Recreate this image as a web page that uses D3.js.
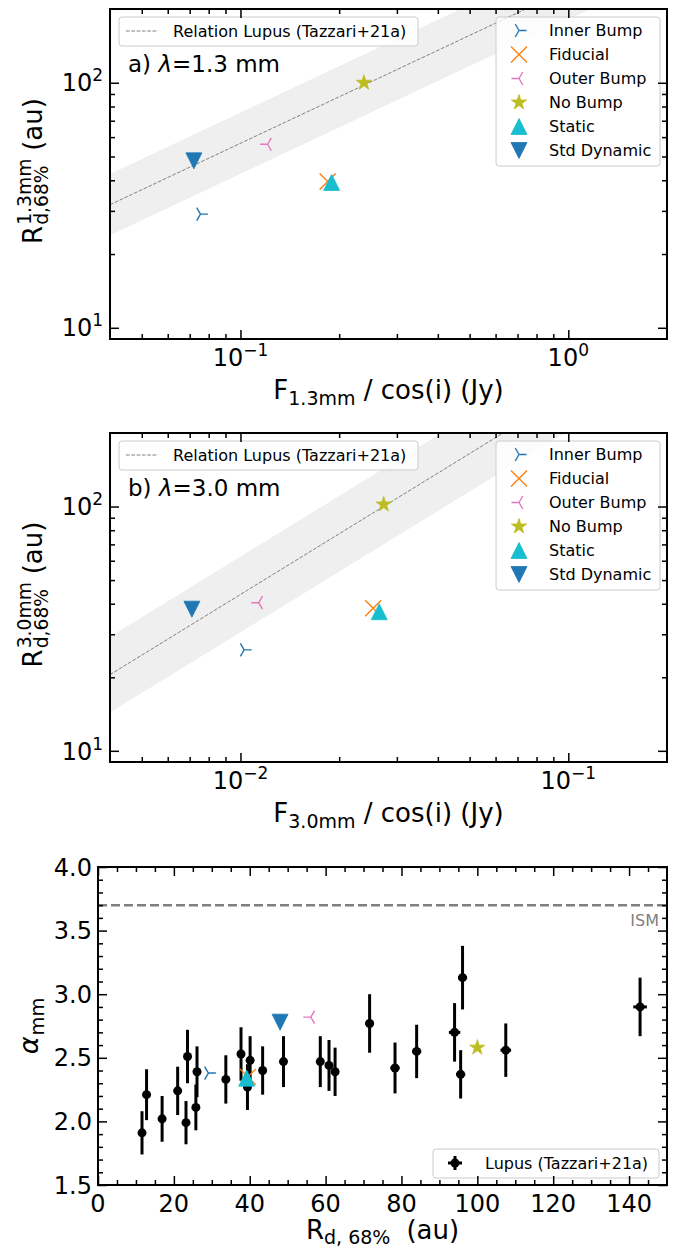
<!DOCTYPE html>
<html>
<head>
<meta charset="utf-8">
<script src="https://cdn.jsdelivr.net/npm/d3@7"></script>
<style>
  body { margin: 0; background: #fff; }
  svg { display: block; font-family: "DejaVu Sans", sans-serif; }
</style>
</head>
<body>
<div id="chart"></div>
<script>
// model runs, in legend order
const modelNames = ["Inner Bump", "Fiducial", "Outer Bump", "No Bump", "Static", "Std Dynamic"];
const flux13 = [0.0755, 0.1845, 0.121, 0.238, 0.1897, 0.0721];
const radius13 = [29.1, 39.5, 56.1, 100, 39.2, 48.0];
const flux30 = [0.01026, 0.0254, 0.01137, 0.02735, 0.0265, 0.00711];
const radius30 = [25.9, 38.3, 40.4, 102, 37.1, 38.0];
const alphaModels = [2.38, 2.35, 2.82, 2.58, 2.34, 2.78];

// Lupus discs (Tazzari+21a)
const lupusR = [11.6, 12.8, 16.9, 21.0, 23.2, 23.6, 25.8, 26.1, 33.7, 37.7, 39.4, 40.1, 43.4,
  48.9, 58.6, 60.9, 62.5, 71.6, 78.3, 84.0, 94.0, 95.6, 96.1, 107.5, 142.9];
const lupusRErr = [0.4, 0.4, 0.4, 0.5, 0.5, 0.5, 0.5, 0.5, 0.6, 0.6, 0.6, 0.6, 0.7,
  0.8, 0.9, 0.9, 1.0, 1.1, 1.2, 1.2, 1.5, 1.2, 1.2, 1.4, 1.8];
const lupusAlpha = [1.91, 2.21, 2.02, 2.24, 1.99, 2.51, 2.11, 2.39, 2.33, 2.53, 2.27, 2.48, 2.40,
  2.47, 2.47, 2.44, 2.39, 2.77, 2.42, 2.55, 2.70, 2.37, 3.13, 2.56, 2.90];
const lupusAlphaErr = [0.17, 0.20, 0.18, 0.19, 0.17, 0.21, 0.18, 0.20, 0.19, 0.21, 0.18, 0.19, 0.19,
  0.20, 0.20, 0.20, 0.19, 0.23, 0.20, 0.21, 0.23, 0.19, 0.25, 0.21, 0.23];

// size-luminosity relation: log R = a + b log F, scatter in dex
const relation13 = [2.383, 0.63, 0.125];
const relation30 = [3.29, 0.825, 0.155];
const alphaISM = 3.7;

// tick values
const xExp13 = [-1, 0];
const xExp30 = [-2, -1];
const yExp = [1, 2];
const radiusTicks = [0, 20, 40, 60, 80, 100, 120, 140];
const alphaTicks = [1.5, 2.0, 2.5, 3.0, 3.5, 4.0];

const modelStyle = {
  "Inner Bump": { shape: "tri_right", color: "#1f77b4" },
  "Fiducial": { shape: "x", color: "#ff7f0e" },
  "Outer Bump": { shape: "tri_left", color: "#e377c2" },
  "No Bump": { shape: "star", color: "#bcbd22" },
  "Static": { shape: "tri_up", color: "#17becf" },
  "Std Dynamic": { shape: "tri_down", color: "#1f77b4" },
};

const width = 686, height = 1251;
const tickFont = 24, labelFont = 26, subFont = 19, legendFont = 16;

const svg = d3.select("#chart").append("svg")
  .attr("width", width)
  .attr("height", height);

function markerPath(shape, ms) {
  const r = ms / 2, s = 0.866 * r;
  if (shape === "tri_right") return `M0,0L${r},0M0,0L${-r / 2},${-s}M0,0L${-r / 2},${s}`;
  if (shape === "tri_left") return `M0,0L${-r},0M0,0L${r / 2},${-s}M0,0L${r / 2},${s}`;
  if (shape === "x") return `M${-r},${-r}L${r},${r}M${-r},${r}L${r},${-r}`;
  if (shape === "tri_up") return `M0,${-r}L${r},${r}L${-r},${r}Z`;
  if (shape === "tri_down") return `M0,${r}L${r},${-r}L${-r},${-r}Z`;
  // star
  const pts = [];
  for (let i = 0; i < 10; i++) {
    const rad = i % 2 === 0 ? r : r * 0.381966;
    const a = -Math.PI / 2 + i * Math.PI / 5;
    pts.push([rad * Math.cos(a), rad * Math.sin(a)]);
  }
  return "M" + pts.map(p => p.join(",")).join("L") + "Z";
}

function drawMarker(g, name, cx, cy) {
  const st = modelStyle[name];
  const open = st.shape === "tri_right" || st.shape === "tri_left" || st.shape === "x";
  g.append("path")
    .attr("d", markerPath(st.shape, open ? (st.shape === "x" ? 16 : 15) : 16))
    .attr("transform", `translate(${cx},${cy})`)
    .attr("fill", open ? "none" : st.color)
    .attr("stroke", st.color)
    .attr("stroke-width", open ? 1.4 : 0.8);
}

// ticks pointing inward on the four sides
function drawTicks(g, x, y, box, xMajor, xMinor, yMajor, yMinor) {
  const sets = [
    [d3.axisBottom, x, `translate(0,${box.bottom})`, xMajor, xMinor],
    [d3.axisTop, x, `translate(0,${box.top})`, xMajor, xMinor],
    [d3.axisLeft, y, `translate(${box.left},0)`, yMajor, yMinor],
    [d3.axisRight, y, `translate(${box.right},0)`, yMajor, yMinor],
  ];
  sets.forEach(([axisFn, scale, tr, major, minor]) => {
    [[major, 9], [minor, 5]].forEach(([vals, len]) => {
      const a = g.append("g").attr("transform", tr)
        .call(axisFn(scale).tickValues(vals).tickSize(-len).tickSizeOuter(0).tickFormat(""));
      a.select(".domain").remove();
      a.selectAll("line").attr("stroke", "#000").attr("stroke-width", 1.5);
    });
  });
}

// label with stacked super/subscript, e.g. R^{1.3mm}_{d,68%} (au)
function stackedLabel(g, cx, cy, rotate, base, sup, sub, tail, size, italic) {
  const outer = g.append("g").attr("transform", `translate(${cx},${cy}) rotate(${rotate})`);
  const inner = outer.append("g");
  const b = inner.append("text").attr("font-size", size).text(base);
  if (italic) b.attr("font-style", "italic");
  const w0 = b.node().getComputedTextLength();
  let w1 = 0;
  if (sup) {
    const t = inner.append("text").attr("x", w0 + 1).attr("y", -0.42 * size)
      .attr("font-size", 0.72 * size).text(sup);
    w1 = Math.max(w1, t.node().getComputedTextLength());
  }
  if (sub) {
    const t = inner.append("text").attr("x", w0 + 1).attr("y", 0.24 * size)
      .attr("font-size", 0.72 * size).text(sub);
    w1 = Math.max(w1, t.node().getComputedTextLength());
  }
  let total = w0 + 1 + w1;
  if (tail) {
    const t = inner.append("text").attr("x", total + 0.3 * size).attr("font-size", size).text(tail);
    total += 0.3 * size + t.node().getComputedTextLength();
  }
  inner.attr("transform", `translate(${-total / 2},0)`);
}

function powerLabel(g, x, y, exp, anchor) {
  const t = g.append("text")
    .attr("x", x)
    .attr("y", y)
    .attr("text-anchor", anchor)
    .attr("font-size", tickFont);
  t.append("tspan").text("10");
  t.append("tspan").attr("dy", -10).attr("font-size", 17)
    .text(exp < 0 ? "\u2212" + (-exp) : exp);
}

function drawFluxPanel(box, xDomain, xExp, flux, radius, rel, tag, band) {
  const g = svg.append("g");
  const x = d3.scaleLog().domain(xDomain).range([box.left, box.right]);
  const y = d3.scaleLog().domain([9, 200]).range([box.bottom, box.top]);
  const clipId = "clip" + band;

  g.append("clipPath").attr("id", clipId)
    .append("rect")
    .attr("x", box.left).attr("y", box.top)
    .attr("width", box.right - box.left).attr("height", box.bottom - box.top);

  const [a, b, s] = rel;
  const relR = (f) => Math.pow(10, a + b * Math.log10(f));

  g.append("path")
    .attr("clip-path", `url(#${clipId})`)
    .attr("d", d3.area()
      .x(d => x(d))
      .y0(d => y(relR(d) / Math.pow(10, s)))
      .y1(d => y(relR(d) * Math.pow(10, s)))(xDomain))
    .attr("fill", "#efefef");

  g.append("path")
    .attr("clip-path", `url(#${clipId})`)
    .attr("d", d3.line().x(d => x(d)).y(d => y(relR(d)))(xDomain))
    .attr("fill", "none")
    .attr("stroke", "#808080")
    .attr("stroke-width", 1)
    .attr("stroke-dasharray", "3.7,1.6");

  modelNames.forEach((name, i) => drawMarker(g, name, x(flux[i]), y(radius[i])));

  // legend: relation
  g.append("rect")
    .attr("x", box.left + 9).attr("y", box.top + 8)
    .attr("width", 299).attr("height", 29).attr("rx", 3)
    .attr("fill", "#fff").attr("fill-opacity", 0.8)
    .attr("stroke", "#cccccc");
  g.append("line")
    .attr("x1", box.left + 16).attr("x2", box.left + 48)
    .attr("y1", box.top + 22).attr("y2", box.top + 22)
    .attr("stroke", "#808080").attr("stroke-width", 1).attr("stroke-dasharray", "3.7,1.6");
  g.append("text")
    .attr("x", box.left + 63).attr("y", box.top + 22).attr("dy", "0.35em")
    .attr("font-size", legendFont)
    .text("Relation Lupus (Tazzari+21a)");

  // legend: models
  g.append("rect")
    .attr("x", 496).attr("y", box.top + 8)
    .attr("width", 164).attr("height", 149).attr("rx", 3)
    .attr("fill", "#fff").attr("fill-opacity", 0.8)
    .attr("stroke", "#cccccc");
  modelNames.forEach((name, i) => {
    const ly = box.top + 21.5 + i * 24;
    drawMarker(g, name, 519, ly);
    g.append("text")
      .attr("x", 549).attr("y", ly).attr("dy", "0.35em")
      .attr("font-size", legendFont)
      .text(name);
  });

  // panel tag
  const t = g.append("text")
    .attr("x", box.left + 18).attr("y", box.top + 63)
    .attr("font-size", 23);
  t.append("tspan").text(tag[0] + " ");
  t.append("tspan").attr("font-style", "italic").text("\u03bb");
  t.append("tspan").text("=" + tag[1] + " mm");

  // ticks
  const xMinor = [];
  for (let e = -3; e <= 1; e++) for (let k = 2; k <= 9; k++) {
    const v = k * Math.pow(10, e);
    if (v > xDomain[0] * 1.001 && v < xDomain[1] * 0.999) xMinor.push(v);
  }
  const yMinor = [20, 30, 40, 50, 60, 70, 80, 90];
  drawTicks(g, x, y, box, xExp.map(e => Math.pow(10, e)), xMinor, [10, 100], yMinor);

  xExp.forEach(e => powerLabel(g, x(Math.pow(10, e)), box.bottom + 27, e, "middle"));
  yExp.forEach(e => powerLabel(g, box.left - 7, y(Math.pow(10, e)) + 8.7, e, "end"));

  // axis labels
  const xl = g.append("text")
    .attr("x", (box.left + box.right) / 2).attr("y", box.bottom + 60)
    .attr("text-anchor", "middle").attr("font-size", labelFont);
  xl.append("tspan").text("F");
  xl.append("tspan").attr("dy", 6).attr("font-size", subFont).text(tag[1] + "mm");
  xl.append("tspan").attr("dy", -6).text(" / cos(i) (Jy)");

  stackedLabel(g, 42, (box.top + box.bottom) / 2 - 3, -90, "R", tag[1] + "mm", "d,68%", "(au)", labelFont, false);

  g.append("rect")
    .attr("x", box.left).attr("y", box.top)
    .attr("width", box.right - box.left).attr("height", box.bottom - box.top)
    .attr("fill", "none").attr("stroke", "#000").attr("stroke-width", 2);
}

drawFluxPanel({ left: 110, right: 667, top: 9, bottom: 339 }, [0.04, 2], xExp13,
  flux13, radius13, relation13, ["a)", "1.3"], "a");
drawFluxPanel({ left: 110, right: 667, top: 433, bottom: 762 }, [0.004, 0.2], xExp30,
  flux30, radius30, relation30, ["b)", "3.0"], "b");

// ---- spectral index panel ----
(function () {
  const box = { left: 98, right: 667, top: 867, bottom: 1185 };
  const g = svg.append("g");
  const x = d3.scaleLinear().domain([0, 150]).range([box.left, box.right]);
  const y = d3.scaleLinear().domain([1.5, 4.0]).range([box.bottom, box.top]);

  g.append("line")
    .attr("x1", box.left).attr("x2", box.right)
    .attr("y1", y(alphaISM)).attr("y2", y(alphaISM))
    .attr("stroke", "#808080").attr("stroke-width", 2.5).attr("stroke-dasharray", "9,4");
  g.append("text")
    .attr("x", box.right - 8).attr("y", y(alphaISM) + 21)
    .attr("text-anchor", "end").attr("font-size", 16).attr("fill", "#808080")
    .text("ISM");

  // Lupus error bars
  lupusR.forEach((r, i) => {
    g.append("line")
      .attr("x1", x(r)).attr("x2", x(r))
      .attr("y1", y(lupusAlpha[i] - lupusAlphaErr[i])).attr("y2", y(lupusAlpha[i] + lupusAlphaErr[i]))
      .attr("stroke", "#000").attr("stroke-width", 3);
    g.append("line")
      .attr("x1", x(r - lupusRErr[i])).attr("x2", x(r + lupusRErr[i]))
      .attr("y1", y(lupusAlpha[i])).attr("y2", y(lupusAlpha[i]))
      .attr("stroke", "#000").attr("stroke-width", 3);
    g.append("circle")
      .attr("cx", x(r)).attr("cy", y(lupusAlpha[i])).attr("r", 4.5)
      .attr("fill", "#000");
  });

  modelNames.forEach((name, i) => drawMarker(g, name, x(radius13[i]), y(alphaModels[i])));

  // legend
  g.append("rect")
    .attr("x", 433).attr("y", 1149)
    .attr("width", 226).attr("height", 29).attr("rx", 3)
    .attr("fill", "#fff").attr("fill-opacity", 0.8)
    .attr("stroke", "#cccccc");
  g.append("line").attr("x1", 455).attr("x2", 455).attr("y1", 1156).attr("y2", 1170)
    .attr("stroke", "#000").attr("stroke-width", 3);
  g.append("line").attr("x1", 448).attr("x2", 462).attr("y1", 1163).attr("y2", 1163)
    .attr("stroke", "#000").attr("stroke-width", 3);
  g.append("circle").attr("cx", 455).attr("cy", 1163).attr("r", 4.5).attr("fill", "#000");
  g.append("text")
    .attr("x", 485).attr("y", 1163).attr("dy", "0.35em")
    .attr("font-size", legendFont)
    .text("Lupus (Tazzari+21a)");

  drawTicks(g, x, y, box, radiusTicks, d3.range(5, 150, 5).filter(v => v % 20 !== 0),
    alphaTicks, d3.range(1.6, 4.0, 0.1).filter(v => Math.abs(v * 2 - Math.round(v * 2)) > 0.01));

  radiusTicks.forEach(v => {
    g.append("text")
      .attr("x", x(v)).attr("y", box.bottom + 27)
      .attr("text-anchor", "middle").attr("font-size", tickFont)
      .text(v);
  });
  alphaTicks.forEach(v => {
    g.append("text")
      .attr("x", box.left - 6).attr("y", y(v)).attr("dy", "0.36em")
      .attr("text-anchor", "end").attr("font-size", tickFont)
      .text(v.toFixed(1));
  });

  const xl = g.append("text")
    .attr("x", (box.left + box.right) / 2).attr("y", 1239)
    .attr("text-anchor", "middle").attr("font-size", labelFont);
  xl.append("tspan").text("R");
  xl.append("tspan").attr("dy", 5).attr("font-size", subFont).text("d, 68%");
  xl.append("tspan").attr("dy", -5).attr("dx", 16).text("(au)");

  stackedLabel(g, 38, (box.top + box.bottom) / 2, -90, "\u03b1", null, "mm", null, 27, true);

  g.append("rect")
    .attr("x", box.left).attr("y", box.top)
    .attr("width", box.right - box.left).attr("height", box.bottom - box.top)
    .attr("fill", "none").attr("stroke", "#000").attr("stroke-width", 2);
})();
</script>
</body>
</html>
